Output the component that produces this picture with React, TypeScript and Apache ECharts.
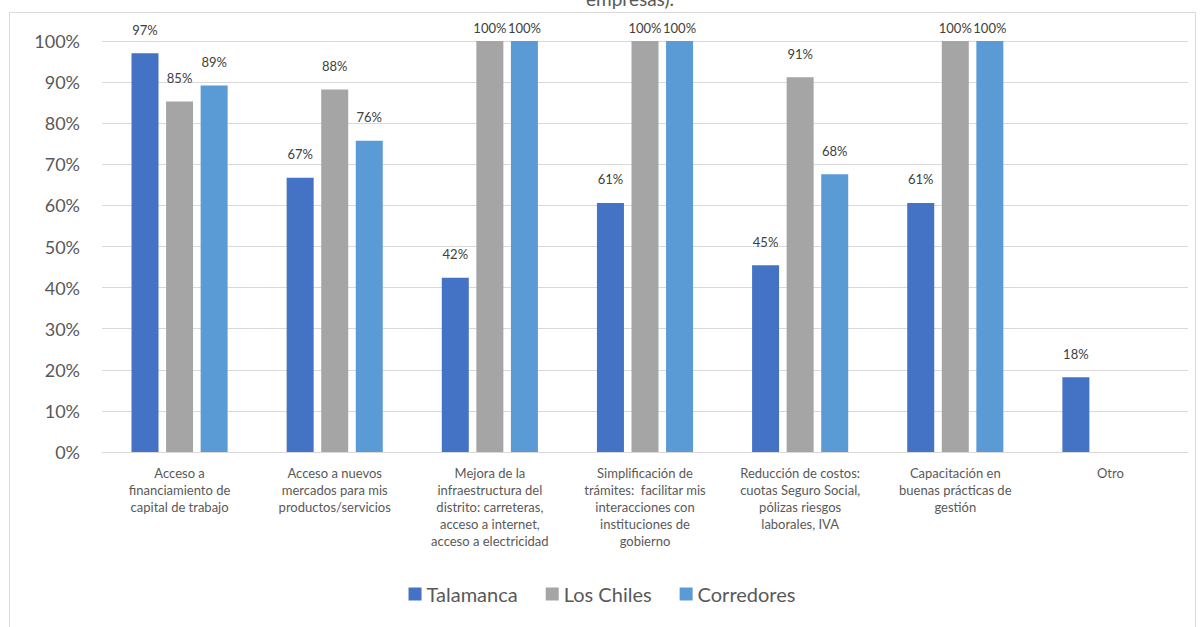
import React, { useEffect, useRef } from "react";
import * as echarts from "echarts";

const categories = [
  "Acceso a\nfinanciamiento de\ncapital de trabajo",
  "Acceso a nuevos\nmercados para mis\nproductos/servicios",
  "Mejora de la\ninfraestructura del\ndistrito: carreteras,\nacceso a internet,\nacceso a electricidad",
  "Simplificación de\ntrámites:  facilitar mis\ninteracciones con\ninstituciones de\ngobierno",
  "Reducción de costos:\ncuotas Seguro Social,\npólizas riesgos\nlaborales, IVA",
  "Capacitación en\nbuenas prácticas de\ngestión",
  "Otro",
];
const talamanca = [0.97, 0.667, 0.424, 0.606, 0.4545, 0.606, 0.182];
const losChiles = [0.853, 0.882, 1.0, 1.0, 0.912, 1.0, null];
const corredores = [0.892, 0.757, 1.0, 1.0, 0.676, 1.0, null];
const seriesNames = ["Talamanca", "Los Chiles", "Corredores"];
const colors = ["#4472C4", "#A5A5A5", "#5B9BD5"];
const titleText = "empresas).";

const FONT = "Lato, 'Open Sans', sans-serif";

export default function App() {
  const ref = useRef<HTMLDivElement>(null);
  useEffect(() => {
    if (!ref.current) return;
    const chart = echarts.init(ref.current, undefined, { renderer: "svg" });
    const values = [talamanca, losChiles, corredores];
    chart.setOption({
      animation: false,
      backgroundColor: "#ffffff",
      textStyle: { fontFamily: FONT },
      graphic: [
        {
          type: "rect",
          shape: { x: 9.5, y: 12.5, width: 1186, height: 640 },
          style: { fill: "none", stroke: "#d9d9d9", lineWidth: 1 },
          silent: true,
        },
        {
          type: "text",
          x: 630,
          y: -2,
          style: {
            text: titleText,
            fontFamily: FONT,
            fontSize: 19,
            fill: "#595959",
            align: "center",
            verticalAlign: "middle",
          },
        },
      ],
      legend: {
        data: seriesNames,
        bottom: 18,
        left: "center",
        itemWidth: 13,
        itemHeight: 13,
        itemGap: 28,
        icon: "rect",
        textStyle: { fontSize: 20, color: "#595959", fontFamily: FONT },
      },
      grid: { left: 102, right: 16, top: 41, bottom: 175 },
      xAxis: {
        type: "category",
        data: categories,
        axisLine: { lineStyle: { color: "#d9d9d9" } },
        axisTick: { show: false },
        axisLabel: {
          interval: 0,
          fontSize: 13,
          color: "#595959",
          lineHeight: 17,
          margin: 12,
          fontFamily: FONT,
        },
      },
      yAxis: {
        type: "value",
        min: 0,
        max: 1,
        interval: 0.1,
        axisLine: { show: false },
        axisTick: { show: false },
        splitLine: { lineStyle: { color: "#d9d9d9" } },
        axisLabel: {
          fontSize: 18,
          color: "#595959",
          margin: 22,
          fontFamily: FONT,
          formatter: (v: number) => Math.round(v * 100) + "%",
        },
      },
      series: seriesNames.map((name, i) => ({
        name,
        type: "bar",
        data: values[i].map((v) =>
          v == null
            ? null
            : { value: v, label: { distance: v >= 0.99 ? 7 : 17 } }
        ),
        barWidth: 27,
        barGap: "28%",
        itemStyle: { color: colors[i] },
        label: {
          show: true,
          position: "top",
          distance: 17,
          fontSize: 13,
          color: "#404040",
          fontFamily: FONT,
          formatter: (p: any) =>
            p.value == null ? "" : Math.round(p.value * 100) + "%",
        },
      })),
    });
    return () => chart.dispose();
  }, []);
  return (
    <div
      ref={ref}
      style={{ position: "fixed", left: 0, top: 0, width: 1204, height: 627 }}
    />
  );
}
